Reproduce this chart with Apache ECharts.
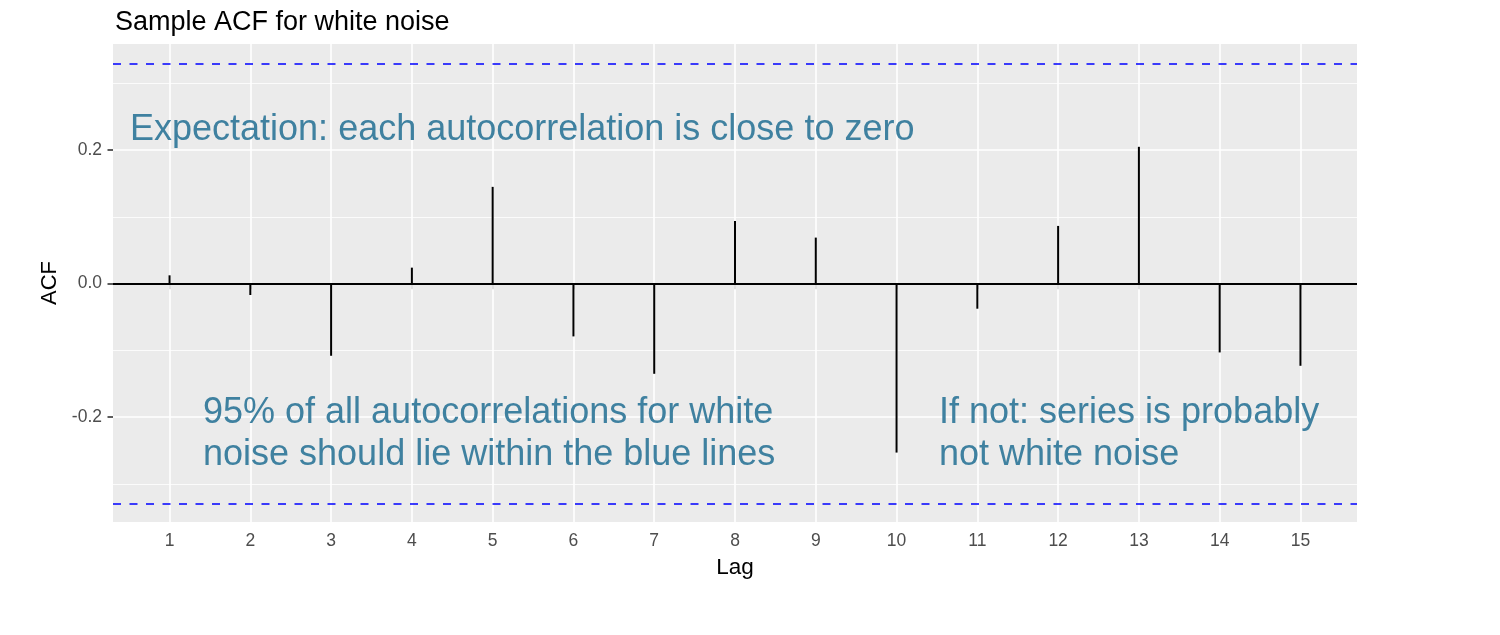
<!DOCTYPE html>
<html>
<head>
<meta charset="utf-8">
<script src="https://cdn.jsdelivr.net/npm/echarts@6/dist/echarts.min.js"></script>
<style>
html,body{margin:0;padding:0;background:#fff;}
#chart{width:1500px;height:635px;}
</style>
</head>
<body>
<div id="chart"></div>
<script>
var lags = [1,2,3,4,5,6,7,8,9,10,11,12,13,14,15];
var acfValues = [0.0125,-0.017,-0.108,0.024,0.145,-0.079,-0.135,0.094,0.069,-0.253,-0.0375,0.0865,0.205,-0.103,-0.123];
var ciBound = 0.3267;
var yMajorTicks = [-0.2,0,0.2];
var yMinorTicks = [-0.3,-0.1,0.1,0.3];
var xTicks = [1,2,3,4,5,6,7,8,9,10,11,12,13,14,15];
var titleText = 'Sample ACF for white noise';
var noteTop = 'Expectation: each autocorrelation is close to zero';
var noteLeft = ['95% of all autocorrelations for white','noise should lie within the blue lines'];
var noteRight = ['If not: series is probably','not white noise'];

var FONT = '"Liberation Sans", Arial, Helvetica, sans-serif';
var NOTE_COLOR = '#3F81A0';

var chart = echarts.init(document.getElementById('chart'), null, {renderer:'canvas'});

var gridLines = [];
yMajorTicks.forEach(function(v){ gridLines.push({yAxis:v, lineStyle:{color:'#ffffff', width:1.6, type:'solid'}}); });
yMinorTicks.forEach(function(v){ gridLines.push({yAxis:v, lineStyle:{color:'#ffffff', width:0.8, type:'solid'}}); });
xTicks.forEach(function(v){ gridLines.push({xAxis:v, lineStyle:{color:'#ffffff', width:1.6, type:'solid'}}); });

var stemData = lags.map(function(l,i){ return [l, acfValues[i]]; });

function textEl(str, x, y){
  return {type:'text', x:x, y:y, silent:true, z:10,
    style:{text:str, fill:NOTE_COLOR, font:'36px ' + FONT, verticalAlign:'top', align:'left'}};
}

var option = {
  animation:false,
  backgroundColor:'#ffffff',
  title:{text:titleText, left:110, top:4, textStyle:{fontFamily:FONT, fontSize:27, fontWeight:'normal', color:'#000000'}},
  grid:{left:113, right:143, top:44, bottom:113, show:true, backgroundColor:'#EBEBEB', borderWidth:0},
  xAxis:{type:'value', min:0.3, max:15.7,
    name:'Lag', nameLocation:'middle', nameGap:34,
    nameTextStyle:{fontFamily:FONT, fontSize:22.5, color:'#000000'},
    axisLine:{show:false},
    axisTick:{show:true, customValues:xTicks, length:5.5, lineStyle:{color:'#333333', width:1.6}},
    axisLabel:{customValues:xTicks, margin:10, fontFamily:FONT, fontSize:17.5, color:'#4D4D4D'},
    splitLine:{show:false}},
  yAxis:{type:'value', min:-0.357, max:0.359,
    name:'ACF', nameLocation:'middle', nameGap:44,
    nameTextStyle:{fontFamily:FONT, fontSize:22, color:'#000000'},
    axisLine:{show:false},
    axisTick:{show:true, customValues:yMajorTicks, length:5.5, lineStyle:{color:'#333333', width:1.6}},
    axisLabel:{customValues:yMajorTicks, margin:11, fontFamily:FONT, fontSize:17.5, color:'#4D4D4D',
      formatter:function(v){ return v.toFixed(1); }},
    splitLine:{show:false}},
  series:[
    {type:'line', data:[], z:1, silent:true,
      markLine:{z:1, silent:true, symbol:'none', label:{show:false}, animation:false, data:gridLines}},
    {type:'line', data:[], z:2, silent:true,
      markLine:{z:2, silent:true, symbol:'none', label:{show:false}, animation:false,
        data:[{yAxis:0, lineStyle:{color:'#000000', width:1.8, type:'solid'}},
              {yAxis:ciBound, lineStyle:{color:'#0000FF', width:1.7, type:[8,8.5]}},
              {yAxis:-ciBound, lineStyle:{color:'#0000FF', width:1.7, type:[8,8.5]}}]}},
    {type:'bar', data:stemData, barWidth:2, z:5, itemStyle:{color:'#000000'}, silent:true}
  ],
  graphic:[
    textEl(noteTop, 130, 112),
    textEl(noteLeft[0], 203, 395),
    textEl(noteLeft[1], 203, 437.5),
    textEl(noteRight[0], 939, 395),
    textEl(noteRight[1], 939, 437.5)
  ]
};
chart.setOption(option);
</script>
</body>
</html>
